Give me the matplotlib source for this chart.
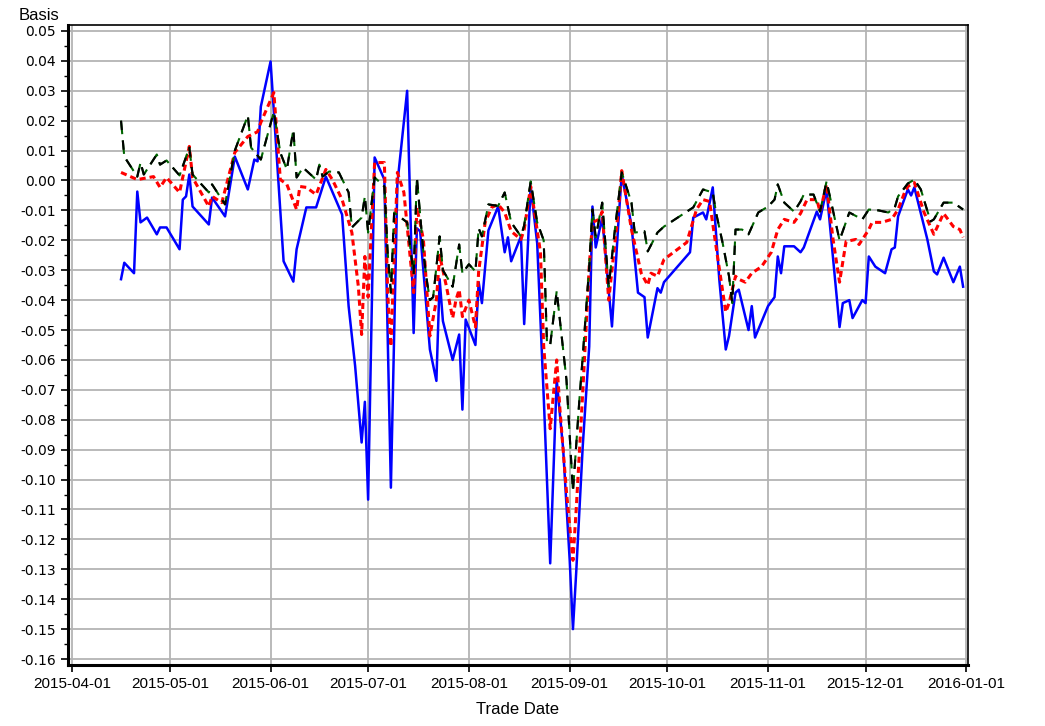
import pandas as pd
import matplotlib
matplotlib.use('Agg')
import matplotlib.pyplot as plt
import matplotlib.dates as mdates
from matplotlib.ticker import MultipleLocator, FormatStrFormatter

# blue solid series
blue_dates = ['2015-04-16', '2015-04-17', '2015-04-20', '2015-04-21', '2015-04-22', '2015-04-24', '2015-04-27',
              '2015-04-28', '2015-04-30', '2015-05-04', '2015-05-05', '2015-05-06', '2015-05-07', '2015-05-08',
              '2015-05-13', '2015-05-14', '2015-05-18', '2015-05-21', '2015-05-25', '2015-05-27', '2015-05-28',
              '2015-05-29', '2015-06-01', '2015-06-05', '2015-06-08', '2015-06-09', '2015-06-12', '2015-06-15',
              '2015-06-18', '2015-06-23', '2015-06-25', '2015-06-27', '2015-06-29', '2015-06-30', '2015-07-01',
              '2015-07-03', '2015-07-06', '2015-07-08', '2015-07-10', '2015-07-13', '2015-07-15', '2015-07-16',
              '2015-07-17', '2015-07-20', '2015-07-22', '2015-07-23', '2015-07-24', '2015-07-27', '2015-07-29',
              '2015-07-30', '2015-07-31', '2015-08-03', '2015-08-04', '2015-08-05', '2015-08-07', '2015-08-10',
              '2015-08-12', '2015-08-13', '2015-08-14', '2015-08-17', '2015-08-18', '2015-08-20', '2015-08-22',
              '2015-08-24', '2015-08-26', '2015-08-28', '2015-08-30', '2015-09-01', '2015-09-02', '2015-09-03',
              '2015-09-05', '2015-09-07', '2015-09-08', '2015-09-09', '2015-09-11', '2015-09-14', '2015-09-16',
              '2015-09-17', '2015-09-20', '2015-09-22', '2015-09-24', '2015-09-25', '2015-09-28', '2015-09-29',
              '2015-09-30', '2015-10-08', '2015-10-09', '2015-10-12', '2015-10-13', '2015-10-15', '2015-10-17',
              '2015-10-19', '2015-10-20', '2015-10-22', '2015-10-23', '2015-10-26', '2015-10-27', '2015-10-28',
              '2015-11-01', '2015-11-03', '2015-11-04', '2015-11-05', '2015-11-06', '2015-11-09', '2015-11-11',
              '2015-11-12', '2015-11-16', '2015-11-17', '2015-11-19', '2015-11-23', '2015-11-24', '2015-11-26',
              '2015-11-27', '2015-11-30', '2015-12-01', '2015-12-02', '2015-12-04', '2015-12-07', '2015-12-09',
              '2015-12-10', '2015-12-11', '2015-12-14', '2015-12-15', '2015-12-16', '2015-12-20', '2015-12-22',
              '2015-12-23', '2015-12-25', '2015-12-28', '2015-12-30', '2015-12-31']
blue_vals = [-0.033, -0.0275, -0.031, -0.0037, -0.014, -0.0124, -0.018,
             -0.0157, -0.0157, -0.023, -0.0064, -0.0053, 0.002, -0.0087,
             -0.0147, -0.0057, -0.012, 0.008, -0.003, 0.007, 0.0064,
             0.0247, 0.0398, -0.027, -0.0338, -0.023, -0.009, -0.009,
             0.0013, -0.0114, -0.042, -0.062, -0.0876, -0.074, -0.1067,
             0.0077, 0.0003, -0.1027, -0.001, 0.030, -0.051, -0.016,
             -0.017, -0.0565, -0.067, -0.033, -0.047, -0.060, -0.0515,
             -0.0766, -0.0465, -0.055, -0.034, -0.041, -0.0167, -0.0087,
             -0.024, -0.019, -0.027, -0.0187, -0.048, -0.002, -0.021,
             -0.072, -0.128, -0.0666, -0.090, -0.127, -0.150, -0.131,
             -0.089, -0.0555, -0.0087, -0.0224, -0.0124, -0.0488, -0.0137,
             0.002, -0.015, -0.0375, -0.039, -0.0525, -0.036, -0.0375,
             -0.034, -0.024, -0.0124, -0.0107, -0.013, -0.0023, -0.033,
             -0.0565, -0.052, -0.0375, -0.0365, -0.050, -0.042, -0.0525,
             -0.042, -0.039, -0.0254, -0.031, -0.022, -0.022, -0.024,
             -0.0224, -0.0104, -0.013, -0.003, -0.049, -0.041, -0.040,
             -0.046, -0.040, -0.041, -0.0254, -0.0288, -0.031, -0.023,
             -0.0224, -0.012, -0.003, -0.005, -0.0023, -0.0197, -0.0304,
             -0.0314, -0.0258, -0.034, -0.0288, -0.0355]

# red short-dash series
red_dates = ['2015-04-16', '2015-04-21', '2015-04-26', '2015-04-28', '2015-04-30', '2015-05-04', '2015-05-07',
             '2015-05-08', '2015-05-13', '2015-05-14', '2015-05-17', '2015-05-21', '2015-05-25', '2015-05-28',
             '2015-05-29', '2015-06-02', '2015-06-04', '2015-06-06', '2015-06-09', '2015-06-10', '2015-06-12',
             '2015-06-15', '2015-06-18', '2015-06-20', '2015-06-23', '2015-06-26', '2015-06-28', '2015-06-29',
             '2015-06-30', '2015-07-01', '2015-07-03', '2015-07-06', '2015-07-07', '2015-07-08', '2015-07-10',
             '2015-07-12', '2015-07-15', '2015-07-16', '2015-07-18', '2015-07-20', '2015-07-22', '2015-07-23',
             '2015-07-25', '2015-07-27', '2015-07-28', '2015-07-29', '2015-07-30', '2015-08-01', '2015-08-03',
             '2015-08-04', '2015-08-06', '2015-08-08', '2015-08-10', '2015-08-12', '2015-08-14', '2015-08-17',
             '2015-08-18', '2015-08-20', '2015-08-23', '2015-08-24', '2015-08-26', '2015-08-28', '2015-08-29',
             '2015-08-31', '2015-09-02', '2015-09-03', '2015-09-05', '2015-09-07', '2015-09-08', '2015-09-10',
             '2015-09-11', '2015-09-13', '2015-09-16', '2015-09-17', '2015-09-20', '2015-09-23', '2015-09-25',
             '2015-09-26', '2015-09-28', '2015-09-30', '2015-10-07', '2015-10-10', '2015-10-12', '2015-10-14',
             '2015-10-16', '2015-10-19', '2015-10-20', '2015-10-22', '2015-10-23', '2015-10-25', '2015-10-27',
             '2015-10-30', '2015-11-02', '2015-11-04', '2015-11-06', '2015-11-09', '2015-11-11', '2015-11-13',
             '2015-11-16', '2015-11-17', '2015-11-19', '2015-11-21', '2015-11-23', '2015-11-25', '2015-11-28',
             '2015-11-29', '2015-12-02', '2015-12-03', '2015-12-06', '2015-12-09', '2015-12-11', '2015-12-13',
             '2015-12-14', '2015-12-16', '2015-12-19', '2015-12-22', '2015-12-25', '2015-12-28', '2015-12-30',
             '2015-12-31']
red_vals = [0.0027, 0.0003, 0.0013, -0.0023, 0.001, -0.004, 0.0114,
            0.001, -0.0087, -0.0053, -0.0074, 0.0094, 0.0147, 0.0163,
            0.0194, 0.0294, 0.0003, -0.0013, -0.0097, -0.002, -0.0023,
            -0.0047, 0.0037, 0.0003, -0.0064, -0.0174, -0.0355, -0.0515,
            -0.0254, -0.039, 0.006, 0.006, -0.0375, -0.0555, 0.0027,
            -0.004, -0.0375, -0.009, -0.0197, -0.052, -0.040, -0.025,
            -0.035, -0.046, -0.040, -0.0365, -0.0455, -0.040, -0.049,
            -0.0304, -0.014, -0.009, -0.008, -0.0107, -0.017, -0.0197,
            -0.0164, -0.002, -0.024, -0.0555, -0.083, -0.060, -0.0766,
            -0.104, -0.127, -0.110, -0.071, -0.0288, -0.014, -0.013,
            -0.0104, -0.040, -0.0097, 0.0033, -0.0164, -0.031, -0.035,
            -0.031, -0.032, -0.0264, -0.0207, -0.0097, -0.0064, -0.007,
            -0.022, -0.044, -0.041, -0.032, -0.033, -0.034, -0.031,
            -0.0288, -0.024, -0.0164, -0.013, -0.014, -0.011, -0.0064,
            -0.0064, -0.0104, -0.0013, -0.0197, -0.034, -0.0204, -0.0197,
            -0.0214, -0.0164, -0.014, -0.014, -0.013, -0.0097, -0.004,
            -0.002, -0.0007, -0.0107, -0.018, -0.011, -0.0154, -0.0164,
            -0.019]

# green/black dashed series
green_dates = ['2015-04-16', '2015-04-17', '2015-04-21', '2015-04-22', '2015-04-23', '2015-04-27', '2015-04-28',
               '2015-04-30', '2015-05-04', '2015-05-07', '2015-05-08', '2015-05-13', '2015-05-14', '2015-05-18',
               '2015-05-21', '2015-05-25', '2015-05-26', '2015-05-29', '2015-06-02', '2015-06-04', '2015-06-06',
               '2015-06-08', '2015-06-09', '2015-06-11', '2015-06-15', '2015-06-16', '2015-06-17', '2015-06-19',
               '2015-06-22', '2015-06-25', '2015-06-26', '2015-06-29', '2015-06-30', '2015-07-01', '2015-07-03',
               '2015-07-06', '2015-07-07', '2015-07-08', '2015-07-09', '2015-07-13', '2015-07-15', '2015-07-16',
               '2015-07-18', '2015-07-19', '2015-07-20', '2015-07-21', '2015-07-23', '2015-07-24', '2015-07-27',
               '2015-07-29', '2015-07-30', '2015-08-01', '2015-08-03', '2015-08-04', '2015-08-05', '2015-08-07',
               '2015-08-10', '2015-08-12', '2015-08-14', '2015-08-17', '2015-08-18', '2015-08-20', '2015-08-22',
               '2015-08-24', '2015-08-25', '2015-08-26', '2015-08-28', '2015-08-31', '2015-09-02', '2015-09-04',
               '2015-09-05', '2015-09-07', '2015-09-08', '2015-09-09', '2015-09-11', '2015-09-13', '2015-09-15',
               '2015-09-17', '2015-09-20', '2015-09-21', '2015-09-24', '2015-09-25', '2015-09-28', '2015-09-30',
               '2015-10-09', '2015-10-12', '2015-10-15', '2015-10-16', '2015-10-18', '2015-10-20', '2015-10-21',
               '2015-10-22', '2015-10-24', '2015-10-26', '2015-10-29', '2015-11-01', '2015-11-03', '2015-11-04',
               '2015-11-06', '2015-11-09', '2015-11-11', '2015-11-12', '2015-11-15', '2015-11-17', '2015-11-19',
               '2015-11-23', '2015-11-26', '2015-11-30', '2015-12-02', '2015-12-05', '2015-12-08', '2015-12-10',
               '2015-12-11', '2015-12-14', '2015-12-16', '2015-12-18', '2015-12-21', '2015-12-22', '2015-12-25',
               '2015-12-28', '2015-12-31']
green_vals = [0.020, 0.008, 0.0013, 0.006, 0.002, 0.0087, 0.0053,
              0.0067, 0.0017, 0.011, 0.002, -0.004, -0.0013, -0.008,
              0.010, 0.0217, 0.011, 0.007, 0.023, 0.0093, 0.0037,
              0.017, 0.001, 0.0043, 0.0003, 0.0053, 0.0013, 0.003,
              0.0027, -0.004, -0.0157, -0.0124, -0.0053, -0.0174, 0.001,
              -0.002, -0.024, -0.0375, -0.0107, -0.014, -0.0314, 0.001,
              -0.024, -0.033, -0.040, -0.039, -0.0187, -0.030, -0.0355,
              -0.0214, -0.031, -0.028, -0.0304, -0.016, -0.0187, -0.008,
              -0.0085, -0.004, -0.014, -0.0187, -0.015, -0.0003, -0.014,
              -0.020, -0.054, -0.055, -0.037, -0.0666, -0.104, -0.073,
              -0.059, -0.0288, -0.0097, -0.019, -0.0074, -0.0355, -0.0154,
              0.0027, -0.0074, -0.0174, -0.017, -0.0237, -0.0174, -0.0154,
              -0.009, -0.003, -0.004, -0.0107, -0.0207, -0.032, -0.041,
              -0.0164, -0.0164, -0.018, -0.0107, -0.0087, -0.0064, -0.0013,
              -0.0074, -0.0104, -0.007, -0.0047, -0.0047, -0.0104, -0.0003,
              -0.020, -0.0107, -0.013, -0.0097, -0.010, -0.0107, -0.009,
              -0.0053, -0.001, 0.0003, -0.003, -0.0137, -0.013, -0.0074,
              -0.0074, -0.0097]

x_ticks = ['2015-04-01', '2015-05-01', '2015-06-01', '2015-07-01', '2015-08-01', '2015-09-01',
           '2015-10-01', '2015-11-01', '2015-12-01', '2016-01-01']

fig = plt.figure(figsize=(10.45, 7.26), dpi=100)
ax = fig.add_axes([0.065, 0.084, 0.8613, 0.8816])

ax.plot(pd.to_datetime(blue_dates), blue_vals, color='#0000ff', lw=1.8, zorder=3)
ax.plot(pd.to_datetime(red_dates), red_vals, color='#ff0000', lw=2.2, ls=(0, (2.0, 1.3)), zorder=4)
ax.plot(pd.to_datetime(green_dates), green_vals, color='#006400', lw=1.5, ls=(0, (6.5, 3)), zorder=5)
ax.plot(pd.to_datetime(green_dates), green_vals, color='black', lw=1.5, ls=(0, (4.5, 5)), zorder=6)

ax.set_xlim(pd.Timestamp('2015-03-30 16:00'), pd.Timestamp('2016-01-01 12:00'))
ax.set_ylim(-0.162, 0.052)

ax.set_xticks(pd.to_datetime(x_ticks))
ax.xaxis.set_major_formatter(mdates.DateFormatter('%Y-%m-%d'))
ax.yaxis.set_major_locator(MultipleLocator(0.01))
ax.yaxis.set_minor_locator(MultipleLocator(0.005))
ax.yaxis.set_major_formatter(FormatStrFormatter('%.2f'))

ax.grid(True, which='major', color='#b4b4b4', lw=1.3)
ax.set_axisbelow(True)

for side in ['left', 'bottom']:
    ax.spines[side].set_linewidth(2.2)
for side in ['top', 'right']:
    ax.spines[side].set_linewidth(1.2)

ax.tick_params(axis='both', which='major', direction='out', length=5, width=1.2)
ax.tick_params(axis='y', which='minor', direction='out', length=3, width=1)
for lab in ax.get_yticklabels():
    lab.set_fontfamily('DejaVu Sans')
    lab.set_fontsize(10)
for lab in ax.get_xticklabels():
    lab.set_fontfamily('Liberation Sans')
    lab.set_fontsize(11)

ax.set_xlabel('Trade Date', fontsize=12, fontfamily='Liberation Sans', labelpad=8)
fig.text(0.018, 0.968, 'Basis', fontsize=12, fontfamily='Liberation Sans', ha='left', va='bottom')

plt.savefig('out.png', dpi=100)
